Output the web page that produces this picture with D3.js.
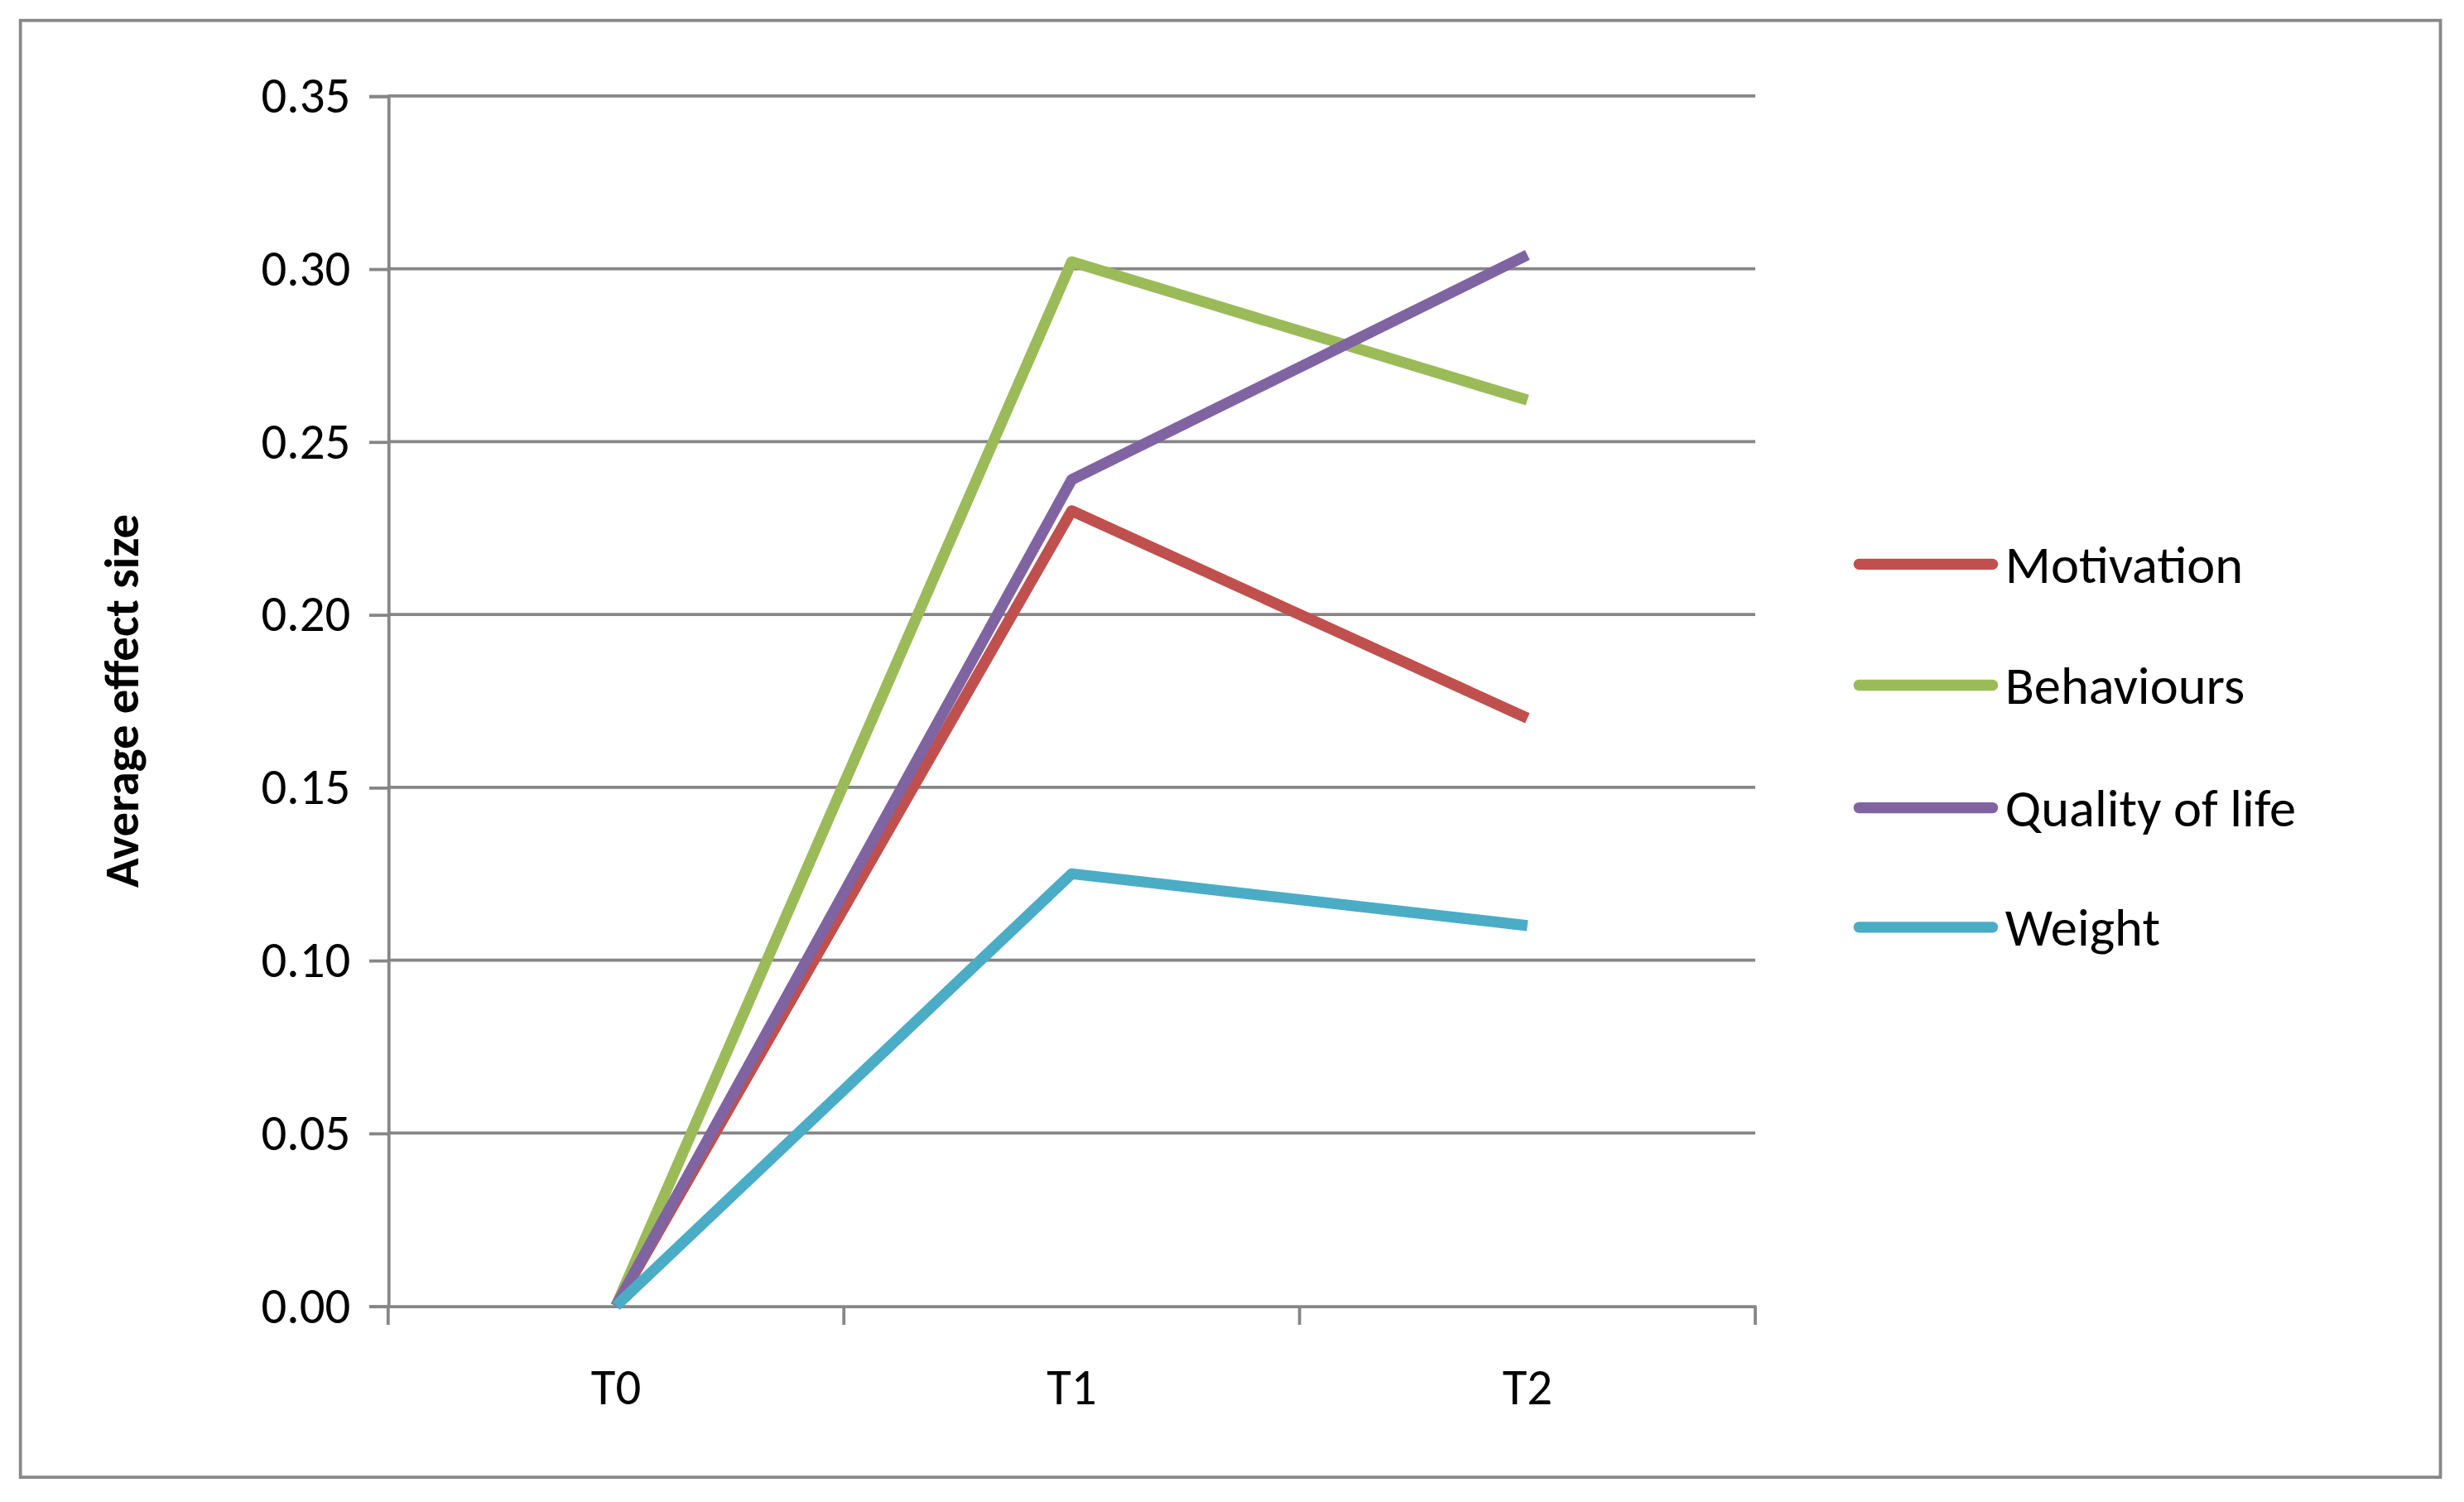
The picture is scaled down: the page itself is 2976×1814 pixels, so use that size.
<!DOCTYPE html>
<html><head><meta charset="utf-8">
<script src="https://cdn.jsdelivr.net/npm/d3@7"></script>
<style>body{margin:0;background:#fff}svg{display:block}</style>
</head><body>
<div id="plot1"></div>
<script>
var categories = ['T0','T1','T2'];
var seriesNames = ['Motivation','Behaviours','Quality of life','Weight'];
var seriesColors = ['#C0504D','#9BBB59','#8064A2','#4BACC6'];
var motivation = [0, 0.230, 0.170];
var behaviours = [0, 0.302, 0.262];
var qualityOfLife = [0, 0.239, 0.304];
var weight = [0, 0.125, 0.110];
var yTicks = [0,0.05,0.10,0.15,0.20,0.25,0.30,0.35];

var s = 2976/1568;
var W = 2976, H = 1814;
var svg = d3.select('#plot1').append('svg').attr('width',W).attr('height',H);
var g = svg.append('g').attr('transform','scale('+s+')');
var font = 'Calibri, Carlito, "Open Sans", sans-serif';

//Outer frame
g.append('rect').attr('x',13).attr('y',13).attr('width',1540).attr('height',927)
	.attr('fill','none').attr('stroke','#888').attr('stroke-width',2);

var x = d3.scaleBand().domain(categories).range([247,1117]);
var y = d3.scaleLinear().domain([0,0.35]).range([831,61]);

//Gridlines
g.selectAll('.grid').data(yTicks.slice(1)).enter().append('line')
	.attr('x1',247).attr('x2',1117).attr('y1',d=>y(d)).attr('y2',d=>y(d))
	.attr('stroke','#868686').attr('stroke-width',2);

var yAxis = g.append('g').attr('transform','translate(247,0)')
	.call(d3.axisLeft(y).tickValues(yTicks).tickFormat(d3.format('.2f')).tickSize(12).tickPadding(12));
var xAxis = g.append('g').attr('transform','translate(0,831)')
	.call(d3.axisBottom(x).tickSize(0).tickPadding(40));
[yAxis,xAxis].forEach(function(a){
	a.select('.domain').attr('stroke','#868686').attr('stroke-width',2);
	a.selectAll('line').attr('stroke','#868686').attr('stroke-width',2);
	a.selectAll('text').attr('font-family',font).attr('font-size',32).attr('fill','#000');
});
//Category boundary ticks
var bounds = categories.map(c=>x(c)).concat([x.range()[1]]);
g.selectAll('.xt').data(bounds).enter().append('line')
	.attr('x1',d=>d).attr('x2',d=>d).attr('y1',831).attr('y2',843)
	.attr('stroke','#868686').attr('stroke-width',2);

g.append('text').attr('transform','translate(88,446) rotate(-90)')
	.attr('text-anchor','middle').attr('font-family',font).attr('font-weight','bold')
	.attr('font-size',31).text('Average effect size');

var data = [motivation, behaviours, qualityOfLife, weight];
var line = d3.line().x((d,i)=>x(categories[i])+x.bandwidth()/2).y(d=>y(d));
//Draw in order so purple sits over red, etc.
[1,0,2,3].forEach(function(k){
	g.append('path').attr('d',line(data[k])).attr('fill','none')
		.attr('stroke',seriesColors[k]).attr('stroke-width',7).attr('stroke-linejoin','round');
});

//Legend
var ly = [359,436,514,590];
seriesNames.forEach(function(n,i){
	g.append('line').attr('x1',1183).attr('x2',1268).attr('y1',ly[i]).attr('y2',ly[i])
		.attr('stroke',seriesColors[i]).attr('stroke-width',7).attr('stroke-linecap','round');
	g.append('text').attr('x',1276).attr('y',ly[i]).attr('dy','0.35em')
		.attr('font-family',font).attr('font-size',34).text(n);
});
</script>
</body></html>
